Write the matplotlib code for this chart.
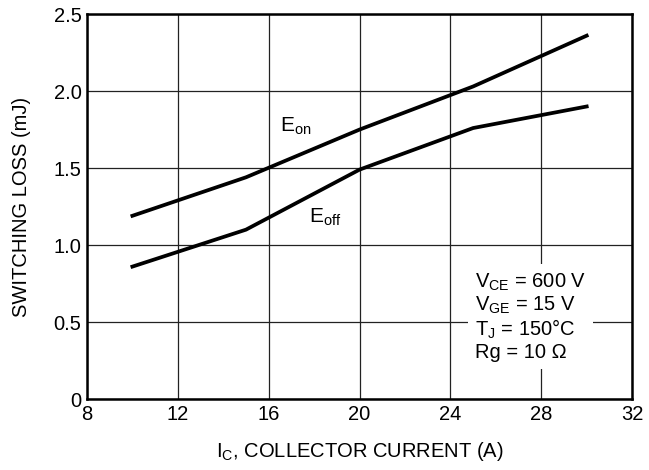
import matplotlib
matplotlib.use('Agg')
import matplotlib.pyplot as plt
import numpy as np

# collector current (A) and switching energies (mJ)
ic = [10, 15, 20, 25, 30]
e_on = [1.19, 1.44, 1.75, 2.03, 2.36]
e_off = [0.86, 1.10, 1.49, 1.76, 1.90]

x_ticks = [8, 12, 16, 20, 24, 28, 32]
y_ticks = [0, 0.5, 1.0, 1.5, 2.0, 2.5]
y_tick_labels = ['0', '0.5', '1.0', '1.5', '2.0', '2.5']

plt.rcParams['font.family'] = ['Liberation Sans', 'DejaVu Sans']
plt.rcParams['mathtext.fontset'] = 'custom'
plt.rcParams['mathtext.rm'] = 'Liberation Sans'

fig = plt.figure(figsize=(6.49, 4.7), dpi=100)
ax = fig.add_axes([0.134, 0.151, 0.840, 0.819])

#-- curve
ax.plot(ic, e_on, color='black', linewidth=2.7, zorder=3)
ax.plot(ic, e_off, color='black', linewidth=2.7, zorder=3)
#--

#-- formattazione grafico
ax.set_xlim(8, 32)
ax.set_ylim(0, 2.5)
ax.set_xticks(x_ticks)
ax.set_yticks(y_ticks)
ax.set_yticklabels(y_tick_labels)
ax.tick_params(length=0, labelsize=14.5, pad=4)
ax.grid(color='#222222', linewidth=0.9)
for s in ax.spines.values():
    s.set_linewidth(1.8)

ax.set_xlabel(r'I$_\mathregular{C}$, COLLECTOR CURRENT (A)', fontsize=14.5, labelpad=12)
ax.set_ylabel('SWITCHING LOSS (mJ)', fontsize=14.5, labelpad=16)
#--

ax.text(17.2, 1.77, r'E$_\mathregular{on}$', fontsize=15, ha='center', va='center')
ax.text(18.5, 1.18, r'E$_\mathregular{off}$', fontsize=15, ha='center', va='center')

cond = ('V$_\\mathregular{CE}$ = 600 V\n'
        'V$_\\mathregular{GE}$ = 15 V\n'
        'T$_\\mathregular{J}$ = 150°C\n'
        'Rg = 10 Ω')
ax.text(0.712, 0.33, cond, transform=ax.transAxes, fontsize=14.5, ha='left', va='top',
        linespacing=1.1, zorder=4,
        bbox=dict(facecolor='white', edgecolor='none', pad=5))

fig.savefig('out.png', dpi=100)
plt.close('all')
